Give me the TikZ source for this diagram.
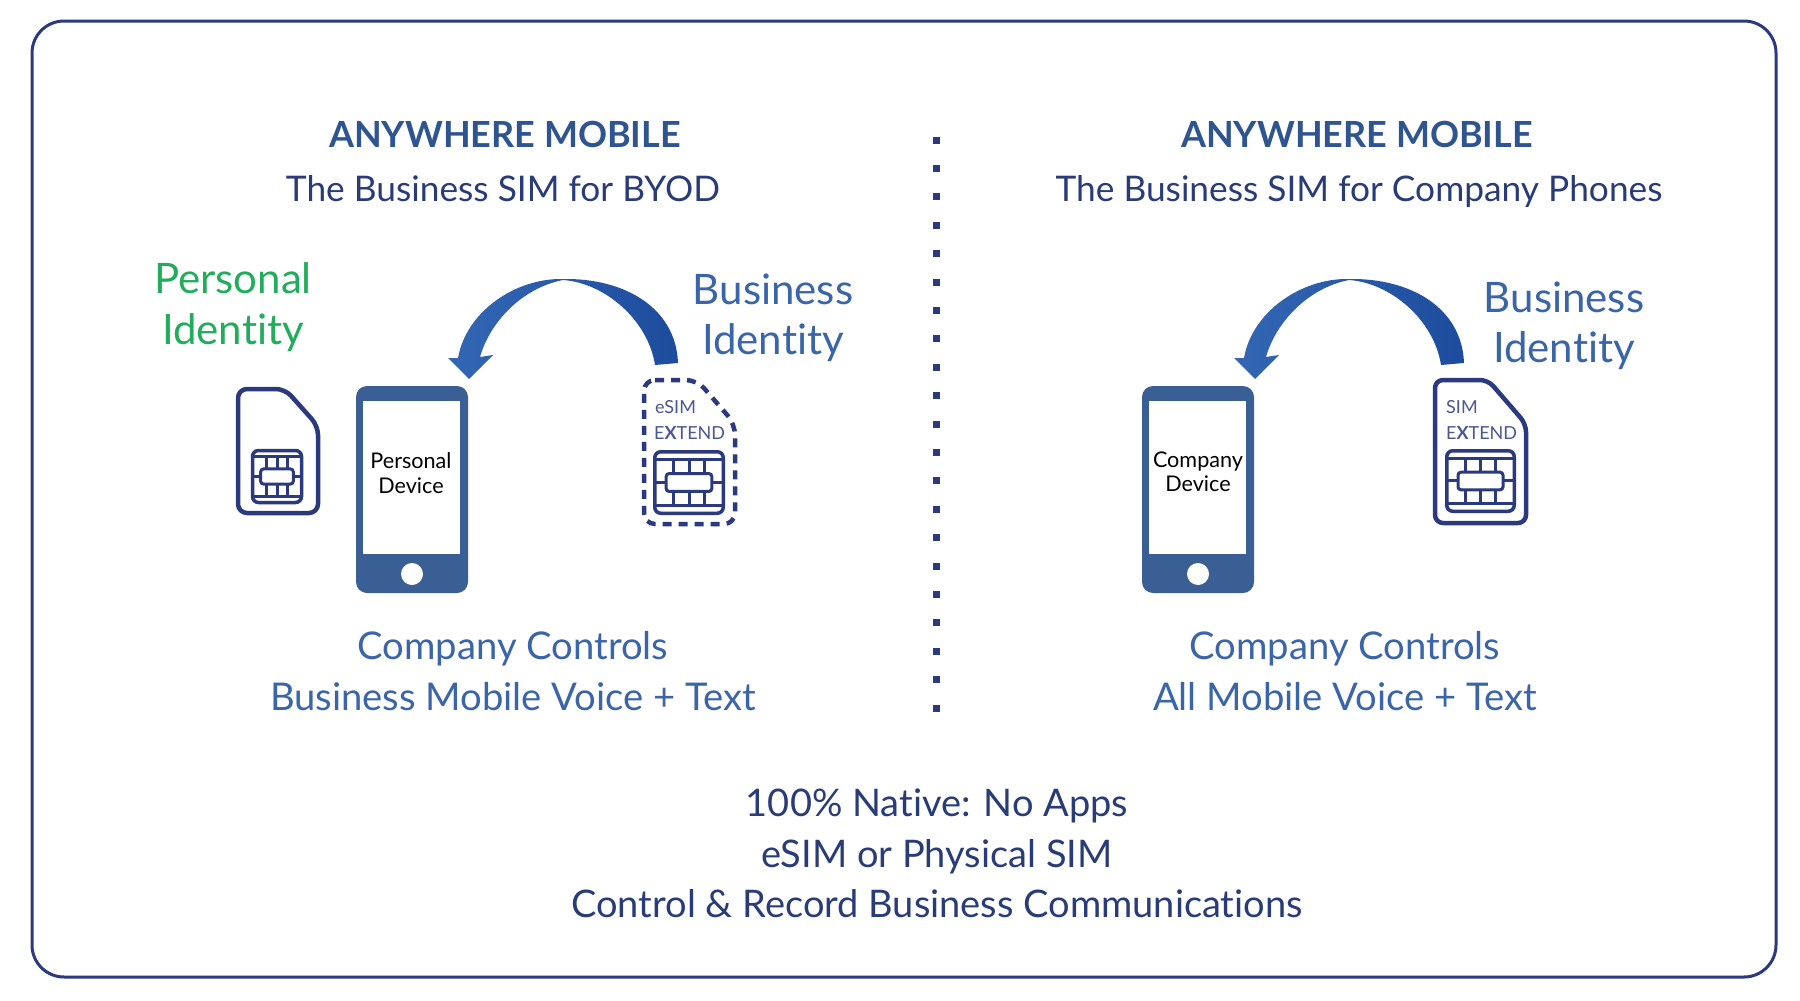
\documentclass[tikz,border=0pt]{standalone}
\usepackage{fontspec}
\setmainfont[Ligatures=NoCommon]{Lato}
\definecolor{navy}{HTML}{2B3A7E}
\definecolor{headblue}{HTML}{2F5590}
\definecolor{subnavy}{HTML}{2A3C78}
\definecolor{textblue}{HTML}{3A65A8}
\definecolor{phoneblue}{HTML}{3A5F95}
\definecolor{idgreen}{HTML}{22AD5C}
\definecolor{arrowlight}{HTML}{3367B4}
\definecolor{arrowdark}{HTML}{1D4C9C}
\tikzset{
  x=1pt,y=-1pt,
  head/.style={font=\fontsize{36}{36}\selectfont\bfseries,text=headblue,inner sep=0pt,anchor=base},
  sub/.style={font=\fontsize{35.3}{36}\selectfont,text=subnavy,inner sep=0pt,anchor=base},
  blue text/.style={font=\fontsize{42}{42}\selectfont,text=textblue,inner sep=0pt,anchor=base},
  green text/.style={font=\fontsize{42}{42}\selectfont,text=idgreen,inner sep=0pt,anchor=base},
  control text/.style={font=\fontsize{38.2}{38}\selectfont,text=textblue,inner sep=0pt,anchor=base},
  small/.style={font=\fontsize{21.6}{22}\selectfont,text=black,inner sep=0pt,anchor=base},
  simlabel/.style={font=\fontsize{18}{18}\selectfont,text=navy!85,inner sep=0pt,anchor=base west},
  bottomtext/.style={font=\fontsize{38}{38}\selectfont,text=subnavy,inner sep=0pt,anchor=base},
  simline/.style={draw=navy,line width=4.5pt,line join=round},
  chipline/.style={draw=navy,line width=3.5pt,rounded corners=6pt},
  chipin/.style={draw=navy,line width=3pt},
}
\newcommand{\phoneshape}[1]{%
  \begin{scope}[shift={(#1,0)}]
  \fill[phoneblue,rounded corners=11pt] (356,386) rectangle (468,593);
  \fill[white] (363,401) rectangle (460,554);
  \fill[white] (412,574) circle (11);
  \end{scope}}
\newcommand{\chipshape}[4]{% x, y, w, h
  \begin{scope}[shift={(#1,#2)},xscale=#3/72,yscale=#4/65]
  \draw[chipline] (0,0) rectangle (72,65);
  \draw[chipin] (0,8) -- (72,8) (0,57) -- (72,57);
  \draw[chipin,rounded corners=3pt] (12,23) rectangle (60,42);
  \draw[chipin] (20,8)--(20,23) (36,8)--(36,23) (52,8)--(52,23)
                (20,42)--(20,57) (36,42)--(36,57) (52,42)--(52,57)
                (0,32)--(12,32) (60,32)--(72,32);
  \end{scope}}
\newcommand{\swoosh}[1]{%
  \begin{scope}[shift={(#1,0)}]
  \shade[left color=arrowlight,right color=arrowdark]
    (655,365) .. controls (648,320) and (605,283) .. (563,280)
    .. controls (522,288) and (490,322) .. (480,357)
    -- (493,355) -- (469,379) -- (448,358) -- (458,358)
    .. controls (466,312) and (515,278) .. (563,279)
    .. controls (625,278) and (676,308) .. (678,363) -- cycle;
  \end{scope}}
\begin{document}
\begin{tikzpicture}
\useasboundingbox (0,0) rectangle (1800,1001);
\fill[white] (0,0) rectangle (1800,1001);
\draw[navy,line width=3pt,rounded corners=32pt] (32,21) rectangle (1776,977);
\draw[navy,line width=7pt,dash pattern=on 7pt off 21.4pt] (936,136.5) -- (936,712);

\node[head] (h1) at (505,147) {ANYWHERE MOBILE};
\node[sub] (s1) at (503,201) {The Business SIM for BYOD};
\node[head] (h2) at (1357,147) {ANYWHERE MOBILE};
\node[sub] (s2) at (1359,201) {The Business SIM for Company Phones};

\node[green text] (p1) at (233,293.5) {Personal};
\node[green text] (p2) at (233,344) {Identity};
\node[blue text] (b1) at (773,304) {Business};
\node[blue text] (b2) at (773,354) {Identity};
\node[blue text] (b3) at (1564,312) {Business};
\node[blue text] (b4) at (1564,362) {Identity};

\swoosh{0}
\swoosh{786}

\phoneshape{0}
\phoneshape{786}
\node[small] (d1) at (411,468) {Personal};
\node[small] (d2) at (411,493) {Device};
\node[small] (d3) at (1198,467) {Company};
\node[small] (d4) at (1198,491) {Device};

% physical SIM, left
\draw[simline,rounded corners=9pt] (238,389) -- (285,389) -- (318,426) -- (318,513) -- (238,513) -- cycle;
\chipshape{252.5}{450.5}{49}{52}
% eSIM
\draw[simline,dash pattern=on 9pt off 7pt,rounded corners=11pt] (644,380) -- (697,380) -- (735,424) -- (735,524) -- (644,524) -- cycle;
\node[simlabel] (e1) at (655,413) {eSIM};
\node[simlabel] (e2) at (654,439) {E\textbf{X}TEND};
\chipshape{654.75}{451.75}{68.5}{61.5}
% SIM, right
\draw[simline,rounded corners=8pt] (1435,380) -- (1488,380) -- (1526,424) -- (1526,523) -- (1435,523) -- cycle;
\node[simlabel] (f1) at (1446,413) {SIM};
\node[simlabel] (f2) at (1446,439) {E\textbf{X}TEND};
\chipshape{1446.75}{450.75}{67.5}{60.5}

\node[control text] (c1) at (513,659) {Company Controls};
\node[control text] (c2) at (513,710) {Business Mobile Voice + Text};
\node[control text] (c3) at (1345,659) {Company Controls};
\node[control text] (c4) at (1345,710) {All Mobile Voice + Text};

\node[bottomtext] (n1) at (937,816) {100\% Native: No Apps};
\node[bottomtext] (n2) at (937,867) {eSIM or Physical SIM};
\node[bottomtext] (n3) at (937,917) {Control \& Record Business Communications};
\end{tikzpicture}
\end{document}
